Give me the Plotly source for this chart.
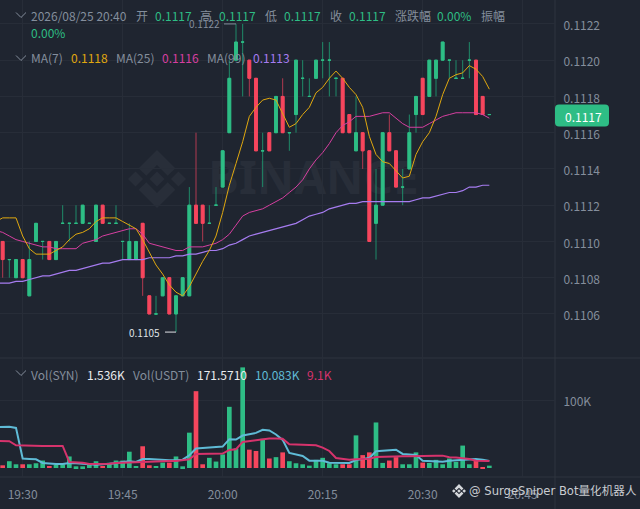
import pandas as pd
import plotly.graph_objects as go

W, H = 640, 509
times = pd.date_range("2026-08-25 19:27", periods=74, freq="min")
line_times = pd.date_range("2026-08-25 19:26", periods=75, freq="min")

opens = [.1110,.1109,.1108,.1109,.1107,.1110,.1110,.1110,.1109,.1111,.1111,.1111,.1111,.1111,.1110,.1112,.1111,.1111,.1110,.1109,
         .1109,.1111,.1107,.1106,.1107,.1108,.1106,.1107,.1107,.1112,.1112,.1111,.1112,.1113,.1116,.1120,.1121,.1120,.1119,.1115,
         .1116,.1116,.1118,.1116,.1117,.1119,.1118,.1119,.1120,.1120,.1119,.1119,.1117,.1115,.1116,.1115,.1111,.1112,.1116,.1115,
         .1113,.1114,.1117,.1119,.1118,.1119,.1120,.1120,.1119,.1119,.1120,.1120,.1118,.1117]
highs = [.1110,.1109,.1109,.1109,.1110,.1111,.1110,.1110,.1110,.1112,.1111,.1112,.1112,.1111,.1112,.1112,.1111,.1112,.1110,.1111,
         .1110,.1111,.1107,.1107,.1108,.1108,.1107,.1108,.1113,.1116,.1112,.1112,.1113,.1115,.1120,.1122,.1122,.1120,.1119,.1116,
         .1116,.1118,.1119,.1116,.1120,.1120,.1119,.1120,.1121,.1121,.1119,.1119,.1117,.1118,.1116,.1115,.1114,.1116,.1117,.1115,
         .1114,.1117,.1118,.1119,.1120,.1120,.1121,.1120,.1120,.1120,.1121,.1120,.1118,.1117]
lows = [.1108,.1108,.1108,.1108,.1107,.1110,.1109,.1109,.1109,.1111,.1110,.1111,.1111,.1111,.1110,.1111,.1111,.1111,.1109,.1109,
        .1109,.1107,.1106,.1106,.1107,.1106,.1105,.1107,.1107,.1111,.1110,.1111,.1112,.1113,.1116,.1120,.1118,.1118,.1115,.1113,
        .1115,.1116,.1116,.1115,.1116,.1118,.1118,.1119,.1119,.1118,.1118,.1116,.1116,.1115,.1114,.1110,.1109,.1112,.1115,.1113,
        .1112,.1114,.1116,.1117,.1118,.1118,.1120,.1119,.1119,.1119,.1119,.1117,.1117,.1117]
closes = [.1109,.1109,.1109,.1108,.1109,.1111,.1110,.1109,.1110,.1111,.1111,.1111,.1112,.1111,.1112,.1111,.1111,.1111,.1110,.1110,
          .1110,.1108,.1106,.1106,.1108,.1106,.1107,.1108,.1112,.1111,.1111,.1111,.1112,.1115,.1119,.1121,.1121,.1119,.1115,.1115,
          .1115,.1118,.1116,.1116,.1120,.1119,.1118,.1120,.1120,.1120,.1119,.1116,.1116,.1116,.1115,.1110,.1112,.1116,.1115,.1113,
          .1113,.1116,.1118,.1117,.1120,.1120,.1121,.1120,.1119,.1119,.1120,.1117,.1117,.1117]
red_candles = [0,3,7,15,21,22,25,29,30,37,38,40,42,51,52,54,55,58,59,63,71,72]

ma7 = [.11111,.11113,.11113,.11113,.11103,.11096,.11093,.11093,.11093,.11095,.11097,.11101,.11104,.11105,.11107,.11111,.11113,.11113,.11113,.11111,.11109,
       .11107,.11101,.11094,.11087,.11082,.11076,.11072,.11070,.11075,.11082,.11089,.11095,.11103,.11116,.11131,.11143,.11155,.11169,.11174,.11178,
       .11179,.11178,.11170,.11163,.11165,.11170,.11174,.11182,.11185,.11190,.11194,.11190,.11185,.11181,.11174,.11158,.11148,.11144,.11143,.11139,
       .11135,.11136,.11148,.11155,.11160,.11169,.11181,.11190,.11192,.11193,.11197,.11195,.11191,.11184]
ma25 = [.11106,.11105,.11103,.11101,.11100,.11099,.11098,.11097,.11097,.11096,.11096,.11096,.11096,.11099,.11100,.11101,.11103,.11104,.11105,.11106,.11107,
        .11107,.11104,.11099,.11098,.11097,.11096,.11095,.11095,.11097,.11097,.11097,.11098,.11099,.11101,.11104,.11109,.11114,.11116,.11117,.11118,
        .11120,.11122,.11124,.11127,.11130,.11134,.11140,.11145,.11149,.11154,.11160,.11164,.11166,.11169,.11169,.11169,.11170,.11171,.11171,.11168,
        .11165,.11163,.11163,.11163,.11165,.11167,.11169,.11170,.11171,.11171,.11171,.11171,.11170,.11168]
ma99 = [.11077,.11077,.11077,.11078,.11078,.11079,.11080,.11081,.11081,.11082,.11083,.11084,.11084,.11085,.11086,.11087,.11088,.11088,.11089,.11090,.11090,
        .11090,.11090,.11091,.11091,.11091,.11091,.11092,.11092,.11093,.11093,.11094,.11095,.11095,.11096,.11098,.11099,.11101,.11103,.11104,.11105,
        .11106,.11107,.11108,.11109,.11110,.11112,.11114,.11115,.11116,.11118,.11119,.11120,.11121,.11121,.11122,.11122,.11122,.11122,.11122,.11122,
        .11122,.11122,.11123,.11124,.11124,.11125,.11126,.11127,.11127,.11128,.11130,.11130,.11131,.11131]

volumes_k = [4,10,5.5,5.5,5.5,7,11,3,4.5,5.5,17,2.5,2.5,5.5,10,3,7.5,11,11,24,
             3,32,4,3,8,8,17,2.5,52,113,5.5,15,9.5,20,90,29,148,27,25,43,
             14,16,23,10,7,5.5,3.5,12,15,7,5.5,5.5,5.5,48,19,23,67,7.5,11,16,
             5.5,5.5,23,8,7.5,12,5.5,14,9,33,5.5,11,1.5,3.5]
vol_ma_a = [60,60,60.6,59,14,13.3,12.8,7.4,6.4,5.9,5.9,7.4,6.9,6.4,4.9,4.9,5.4,5.9,6.9,8.9,9.9,
            8.9,13.3,13.3,12.3,11.8,11.3,11.3,12.3,18.7,28.6,29.6,30,31,31.5,42.4,41.9,47.8,50.2,51.7,56.2,
            55.2,49.3,41.4,22.2,20.2,17.7,10.8,10.8,10.8,7.9,7.4,7.4,7.4,11.8,13.3,14.8,24.6,25.1,25.6,27,
            20.7,19.7,19.2,10.8,10.3,9.9,9.4,10.8,11.3,12.3,13.3,13.3,12.3,10.3]
vol_ma_b = [40,39.9,39.4,33.5,33,32.5,32.5,32.5,32.5,32.5,32.5,8.9,8.4,7.9,5.9,5.9,5.9,6.4,7.4,7.9,8.4,
            8.4,9.4,9.4,9.9,9.9,10.3,10.3,11.3,12.8,20.7,20.7,20.7,20.7,21.2,26.6,27.6,38.4,39.9,40.9,42.4,
            43.3,43.3,42.9,35,34.5,34.5,34,33.5,30,25.1,14.8,13.3,12.3,12.8,13.3,13.8,16.3,16.7,17.2,17.2,
            17.2,17.2,17.7,17.7,17.7,18.2,18.2,15.8,15.3,14.8,13.3,10.8,10.3,10.3]

price_ticks = [.1106,.1108,.1110,.1112,.1114,.1116,.1118,.1120,.1122]
BG, GRID, EDGE = "#1f2530", "#272d38", "#2e343f"
GREEN, RED, GRAY = "#2ebd85", "#f6465d", "#848e9c"
GREEN_WICK, RED_WICK = "#1f8a68", "#b03a50"
TXT = "Noto Sans CJK SC"

def px(x): return x / W
def py(y): return 1 - y / H

start = times[0]
x_lo = start + pd.Timedelta(minutes=-0.4)
x_hi = start + pd.Timedelta(minutes=82.85)

fig = go.Figure()
red_set = set(red_candles)

def candle(idx, o, h, l, c, col, width):
    fig.add_trace(go.Candlestick(
        x=[times[i] for i in idx], open=[o[i] for i in idx], high=[h[i] for i in idx],
        low=[l[i] for i in idx], close=[c[i] for i in idx],
        increasing=dict(line=dict(color=col, width=width), fillcolor=col),
        decreasing=dict(line=dict(color=col, width=width), fillcolor=col),
        whiskerwidth=0, showlegend=False, hoverinfo="skip"))

body_hi = [max(a, b) for a, b in zip(opens, closes)]
body_lo = [min(a, b) for a, b in zip(opens, closes)]
for idx, col, wick in ([i for i in range(74) if i not in red_set], GREEN, GREEN_WICK), (red_candles, RED, RED_WICK):
    candle(idx, opens, highs, lows, closes, wick, 1)
    candle(idx, opens, body_hi, body_lo, closes, col, 1)

for s, c, w in (ma99, "#a67cf0", 1.2), (ma25, "#d63fa0", 1), (ma7, "#e0a80f", 1):
    fig.add_trace(go.Scatter(x=line_times, y=s, mode="lines", line=dict(color=c, width=w),
                             showlegend=False, hoverinfo="skip"))
bar_cols = [RED if i in red_set else GREEN for i in range(74)]
fig.add_trace(go.Bar(x=times, y=volumes_k, width=42000, marker=dict(color=bar_cols, line_width=0),
                     xaxis="x2", yaxis="y2", showlegend=False, hoverinfo="skip"))
for s, c in (vol_ma_a, "#5fbbd6"), (vol_ma_b, "#d6336c"):
    fig.add_trace(go.Scatter(x=line_times, y=s, mode="lines", line=dict(color=c, width=2),
                             xaxis="x2", yaxis="y2", showlegend=False, hoverinfo="skip"))

def logo(cx, cy, s, color, layer):
    shapes = []
    polys = [
        [(0,-1),(.63,-.37),(.37,-.11),(0,-.48),(-.37,-.11),(-.63,-.37)],
        [(0,1),(.63,.37),(.37,.11),(0,.48),(-.37,.11),(-.63,.37)],
        [(-1,0),(-.74,-.26),(-.48,0),(-.74,.26)],
        [(1,0),(.74,-.26),(.48,0),(.74,.26)],
        [(0,-.26),(.26,0),(0,.26),(-.26,0)],
    ]
    for p in polys:
        d = "M" + " L".join(f"{px(cx+a*s):.5f},{py(cy+b*s):.5f}" for a, b in p) + " Z"
        shapes.append(dict(type="path", path=d, xref="paper", yref="paper", fillcolor=color,
                           line_width=0, layer=layer))
    return shapes

def chevron(cx, cy):
    d = f"M{px(cx-5):.5f},{py(cy-2.5):.5f} L{px(cx):.5f},{py(cy+2.5):.5f} L{px(cx+5):.5f},{py(cy-2.5):.5f}"
    return dict(type="path", path=d, xref="paper", yref="paper", line=dict(color=GRAY, width=1))

def hline(y, x1=W):
    return dict(type="line", xref="paper", yref="paper", x0=0, x1=px(x1), y0=py(y), y1=py(y),
                line=dict(color=EDGE, width=1), layer="below")

tag = (f"M{px(559):.5f},{py(104.5):.5f} L{px(605):.5f},{py(104.5):.5f} Q{px(609):.5f},{py(104.5):.5f} {px(609):.5f},{py(108.5):.5f} "
       f"L{px(609):.5f},{py(122.5):.5f} Q{px(609):.5f},{py(126.5):.5f} {px(605):.5f},{py(126.5):.5f} L{px(559):.5f},{py(126.5):.5f} "
       f"Q{px(555):.5f},{py(126.5):.5f} {px(555):.5f},{py(122.5):.5f} L{px(555):.5f},{py(108.5):.5f} Q{px(555):.5f},{py(104.5):.5f} {px(559):.5f},{py(104.5):.5f} Z")

i_hi = highs.index(max(highs))
i_lo = lows.index(min(lows))
shapes = [hline(358), hline(477),
          dict(type="line", xref="paper", yref="paper", x0=px(555), x1=px(555), y0=0, y1=1,
               line=dict(color=EDGE, width=1), layer="below"),
          chevron(21, 15), chevron(21, 58), chevron(21, 373),
          dict(type="path", path=tag, xref="paper", yref="paper", fillcolor=GREEN, line_width=0),
          dict(type="rect", xref="paper", yref="paper", x0=px(195), x1=px(432), y0=py(198), y1=py(160),
               line_width=0, fillcolor="rgba(0,0,0,0)", layer="below",
               label=dict(text="<b>BINANCE</b>", font=dict(size=46, color="#282e39", family="Noto Sans"),
                          textposition="middle center")),
          dict(type="line", xref="x", yref="y", xsizemode="pixel", xanchor=times[i_hi], x0=-12, x1=0,
               y0=highs[i_hi], y1=highs[i_hi], line=dict(color=GRAY, width=1)),
          dict(type="line", xref="x", yref="y", xsizemode="pixel", xanchor=times[i_lo], x0=-11, x1=0,
               y0=lows[i_lo], y1=lows[i_lo], line=dict(color="#dfe2e6", width=1)),
          ]
shapes += logo(157, 179, 29, "#282e39", "below")
shapes += logo(459, 491, 7, "#d5d8dc", "above")

def T(x, y, s, color=GRAY, size=12, family=TXT, anchor="left"):
    return dict(text=s, x=px(x), y=py(y), xref="paper", yref="paper", xanchor=anchor, yanchor="middle",
                showarrow=False, borderpad=0, font=dict(color=color, size=size, family=family))

Y1, Y2, Y3, Y4 = 16, 32, 58, 374
anns = [T(30,Y1,"2026/08/25 20:40"), T(135,Y1,"开"), T(154,Y1,"0.1117",GREEN), T(199,Y1,"高"), T(218,Y1,"0.1117",GREEN),
        T(264,Y1,"低"), T(283,Y1,"0.1117",GREEN), T(329,Y1,"收"), T(347.5,Y1,"0.1117",GREEN), T(393.5,Y1,"涨跌幅"),
        T(436,Y1,"0.00%",GREEN), T(480,Y1,"振幅"), T(30,Y2,"0.00%",GREEN),
        T(30,Y3,"MA(7)"), T(70,Y3,"0.1118","#e0a80f"), T(115,Y3,"MA(25)"), T(161,Y3,"0.1116","#d63fa0"),
        T(206,Y3,"MA(99)"), T(252,Y3,"0.1113","#a67cf0"),
        T(30,Y4,"Vol(SYN)"), T(86,Y4,"1.536K","#eaecef"), T(131.5,Y4,"Vol(USDT)"), T(196,Y4,"171.5710","#eaecef"),
        T(254,Y4,"10.083K","#5fbbd6"), T(306,Y4,"9.1K","#d6336c"),
        T(564,116,"0.1117","#ffffff"),
        dict(text="0.1122", x=times[i_hi], y=highs[i_hi], xref="x", yref="y", xanchor="right", yanchor="middle",
             xshift=-15, showarrow=False, borderpad=0, font=dict(color=GRAY, size=10, family=TXT)),
        dict(text="0.1105", x=times[i_lo], y=lows[i_lo], xref="x", yref="y", xanchor="right", yanchor="middle",
             xshift=-15, showarrow=False, borderpad=0, font=dict(color="#dfe2e6", size=10, family=TXT)),
        T(468,491,"@ SurgeSniper Bot量化机器人","#c9ccd1",11.6,"DejaVu Sans, Noto Sans CJK SC"),
        ]

xgrid = dict(type="date", range=[x_lo, x_hi], showgrid=True, gridcolor=GRID, gridwidth=1, zeroline=False,
             tick0="2026-08-25 19:30:00", dtick=900000, rangeslider=dict(visible=False), domain=[0, 555/W],
             showline=False)
fig.update_layout(
    width=W, height=H, margin=dict(l=0, r=0, t=0, b=0), paper_bgcolor=BG, plot_bgcolor=BG,
    boxmode="overlay", boxgap=0.4, showlegend=False, shapes=shapes, annotations=anns,
    xaxis=dict(**xgrid, anchor="y", showticklabels=False, ticks=""),
    xaxis2=dict(**xgrid, anchor="y2", tickformat="%H:%M", ticks="outside", ticklen=7, tickcolor="rgba(0,0,0,0)",
                tickfont=dict(color=GRAY, size=12, family=TXT)),
    yaxis=dict(domain=[1-358/H, 1], anchor="x", side="right", range=[0.110357, 0.112332],
               tickmode="array", tickvals=price_ticks, ticktext=[f"{v:.4f}" for v in price_ticks],
               showgrid=True, gridcolor=GRID, zeroline=False, ticks="outside", ticklen=5, ticklabelshift=2,
               tickcolor="rgba(0,0,0,0)", tickfont=dict(color=GRAY, size=12, family=TXT)),
    yaxis2=dict(domain=[1-477/H, 1-358/H], anchor="x2", side="right", range=[-13.2, 161.8],
                tickmode="array", tickvals=[100], ticktext=["100K"], showgrid=True, gridcolor=GRID,
                zeroline=False, ticks="outside", ticklen=5, ticklabelshift=2, tickcolor="rgba(0,0,0,0)",
                tickfont=dict(color=GRAY, size=12, family=TXT)),
)
fig.write_html("out.html", config=dict(displayModeBar=False),
               post_script="document.body.style.margin='0';document.body.style.overflow='hidden';")
